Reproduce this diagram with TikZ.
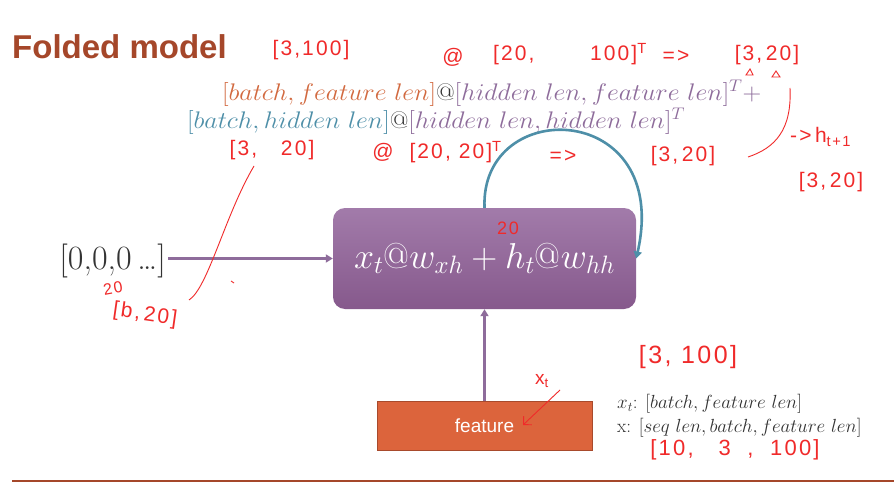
\RequirePackage{fix-cm}
\documentclass[tikz,border=0pt]{standalone}
\usepackage{fontspec}
\usetikzlibrary{arrows.meta}
\newfontfamily\handf[LetterSpace=10]{Liberation Sans}
\newfontfamily\arialf{Liberation Sans}
\definecolor{titlec}{HTML}{A5472A}
\definecolor{orangec}{HTML}{D2693F}
\definecolor{purpc}{HTML}{8E6C9B}
\definecolor{tealc}{HTML}{4E8FA8}
\definecolor{darkc}{HTML}{333333}
\definecolor{boxtop}{HTML}{A27BAA}
\definecolor{boxbot}{HTML}{86598C}
\definecolor{featc}{HTML}{DC643C}
\definecolor{featb}{HTML}{A84A2C}
\definecolor{inkred}{HTML}{F02A2A}
\begin{document}
\begin{tikzpicture}[x=1pt,y=-1pt,
  ink/.style={text=inkred, font=\handf\fontsize{21}{21}\selectfont, inner sep=0pt},
  inkline/.style={draw=inkred, line width=0.9pt},
  purpline/.style={draw=purpc, line width=2.6pt, -{Triangle[length=7pt,width=8pt]}},
  mathtxt/.style={anchor=west, inner sep=0pt, font=\fontsize{24}{28}\selectfont},
  mainbox/.style={rounded corners=12pt, minimum width=303pt, minimum height=101pt,
    top color=boxtop, bottom color=boxbot, draw=none, text=white,
    font=\fontsize{36}{40}\selectfont},
  featbox/.style={fill=featc, draw=featb, line width=1pt, minimum width=215pt,
    minimum height=49pt, text=white, font=\arialf\fontsize{19}{21}\selectfont},
  note/.style={anchor=west, inner sep=0pt, text=darkc, font=\fontsize{19}{21}\selectfont}]
\useasboundingbox (0,0) rectangle (894,484);
\fill[white] (0,0) rectangle (894,484);

% title
\node[anchor=west, inner sep=0pt, font=\arialf\bfseries\fontsize{33}{33}\selectfont, text=titlec] (title) at (12,47) {Folded model};

% formula
\node[mathtxt] (f1) at (222,93) {\scalebox{1.08}[1]{$\color{orangec}[batch, feature\ len]\color{darkc}@\color{purpc}[hidden\ len, feature\ len]^T+$}};
\node[mathtxt] (f2) at (187,121) {\scalebox{1.08}[1]{$\color{tealc}[batch, hidden\ len]\color{darkc}@\color{purpc}[hidden\ len, hidden\ len]^T$}};

% main box
\node[mainbox] (box) at (484.5,258.5) {$x_t@w_{xh}+h_t@w_{hh}$};

% input
\node[anchor=east, inner sep=2pt, text=darkc, font=\fontsize{34}{36}\selectfont] (in) at (168,261) {[0,0,0\,\ldots]};
\draw[purpline] (box.west -| in.east) -- (box.west);

% feature
\node[featbox] (feat) at (484.5,425.5) {feature};
\draw[purpline] (feat.north) -- (box.south);

% loop
\draw[draw=tealc, line width=2.6pt, -{Triangle[length=7pt,width=8pt]}]
  (box.north) .. controls (480,95) and (672,100) .. (box.east);

% right notes
\node[note] (xt) at (617,404) {$x_t$: $[batch, feature\ len]$};
\node[note] (xx) at (617,428) {x: $[seq\ len, batch, feature\ len]$};

% bottom rule
\draw[titlec, line width=1.5pt] (12,481) -- (894,481);

% handwritten annotations
\node[ink] (a1) at (311,50) {[3,100]};
\node[ink] (a2) at (453,57) {@};
\node[ink] (a3) at (570,54) {[20,\ \ \ \ \ \ \ 100]\textsuperscript{T}};
\node[ink] (a4) at (676,56) {=>};
\node[ink] (a5) at (767,55) {[3,\,20]};
\draw[inkline] (746,75) -- (750,69) -- (753,75) -- cycle;
\draw[inkline] (772,77) -- (776,71) -- (780,77) -- cycle;

\node[ink] (b1) at (272,150) {[3,\ \ \ 20]};
\node[ink] (b2) at (437,152) {@\ \ [20,\ 20]\textsuperscript{T}};
\node[ink] (b3) at (563,156) {=>};
\node[ink] (b4) at (683,156) {[3,\,20]};

\coordinate (k1) at (790,88);
\coordinate (k2) at (748,157);
\draw[inkline] (k1) .. controls (792,130) and (775,148) .. (k2);
\node[ink, anchor=west] (c1) at (790,137) {->\,h\textsubscript{t+1}};
\node[ink] (c2) at (831,182) {[3,\,20]};

\node[ink, font=\handf\fontsize{18}{18}\selectfont] (d1) at (508,228) {20};

\node[ink, font=\handf\fontsize{16}{16}\selectfont, rotate=10] (e1) at (113,288) {20};
\node[ink, rotate=-8] (e2) at (145,315) {[b,\,20]};
\coordinate (m1) at (189,300);
\coordinate (m2) at (254,166);
\draw[inkline] (m1) .. controls (208,288) and (225,215) .. (m2);
\draw[inkline] (231,281) -- (234,283);

\node[ink, font=\handf\fontsize{25}{25}\selectfont] (g1) at (688,357) {[3,\ 100]};
\node[ink, font=\handf\fontsize{19}{19}\selectfont] (g2) at (542,381) {x\textsubscript{t}};
\coordinate (p1) at (560,390);
\coordinate (p2) at (523,425);
\draw[inkline, -{Straight Barb[length=6pt]}] (p1) -- (p2);

\node[ink, font=\handf\fontsize{22}{22}\selectfont] (h1) at (735,450) {[10,\ \ \ 3\ \ ,\ \ 100]};
\end{tikzpicture}
\end{document}
